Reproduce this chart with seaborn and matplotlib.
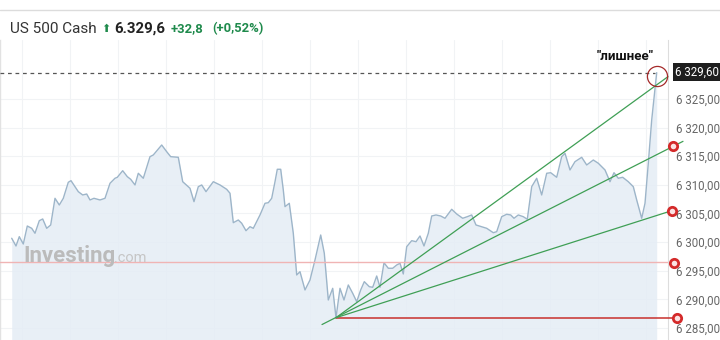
import matplotlib
matplotlib.use("Agg")
import matplotlib.pyplot as plt
import seaborn as sns
import pandas as pd
from matplotlib.lines import Line2D

# ---------------- data ----------------
t = [11.7, 16, 19.3, 23.3, 27.3, 31.7, 35, 39.3, 42.7, 46.7, 50.7, 55, 59.3, 63.3, 68.3, 71,
     78.3, 82.7, 86.7, 90, 94, 100, 105, 110, 115, 117.3, 122.7, 127.3, 130.7, 135, 138.3,
     143.3, 150, 153.3, 161.7, 166.7, 170.7, 178.3, 182.7, 190, 194, 198.3, 201.7, 206,
     213.3, 220, 226.7, 230, 233.3, 238.3, 241.7, 246, 250, 253.3, 260, 265, 268.3, 271.7,
     275, 277.3, 280.7, 283.3, 285, 289.3, 293.3, 296.7, 300, 305, 310, 315, 320.7, 324.3,
     328.3, 332.7, 336, 340, 344, 348.3, 352.7, 356.7, 360.7, 364.3, 369.3, 372.7, 376.7,
     380, 384, 388.3, 392.7, 396.7, 400, 403.3, 406.7, 411.7, 416, 420, 424, 428.3, 431.7,
     436, 440.7, 445, 451.7, 456.7, 462.7, 467.3, 471.7, 476, 481.7, 486.7, 493.3, 496.7,
     501.7, 506.7, 510.7, 514, 518.3, 523.3, 527.3, 531.7, 536.7, 541.7, 546.7, 550.7,
     556.7, 561.7, 565, 570, 575, 581.7, 586.7, 593.3, 598.3, 605, 610, 614, 618.3, 622.7,
     628.3, 633.3, 636.7, 641.7, 645, 648.3, 651.7, 656.7]
price = [6300.67, 6299.32, 6300.95, 6299.67, 6302.81, 6302.41, 6301.54, 6303.74, 6304.04,
         6302.41, 6302.99, 6307.65, 6306.48, 6307.65, 6310.45, 6310.73, 6308.81, 6308.23,
         6308.40, 6307.36, 6307.65, 6307.36, 6307.65, 6310.27, 6311.15, 6311.32, 6312.47,
         6311.43, 6310.97, 6309.98, 6312.02, 6311.15, 6314.92, 6315.22, 6316.96, 6315.79,
         6314.92, 6314.81, 6310.55, 6309.40, 6307.06, 6309.68, 6309.98, 6308.81, 6310.55,
         6309.98, 6309.22, 6308.53, 6303.39, 6303.86, 6303.29, 6301.99, 6302.69, 6302.41,
         6304.74, 6306.78, 6306.88, 6307.65, 6310.55, 6312.72, 6312.72, 6309.10, 6306.19,
         6306.78, 6301.54, 6294.26, 6294.83, 6291.64, 6293.38, 6296.88, 6301.24, 6298.05,
         6289.89, 6291.93, 6286.80, 6291.93, 6289.89, 6292.51, 6291.06, 6289.59, 6291.64,
         6293.09, 6292.21, 6292.11, 6294.08, 6292.11, 6296.40, 6295.43, 6295.43, 6296.00,
         6296.30, 6294.43, 6299.20, 6300.25, 6300.07, 6301.07, 6299.32, 6301.54, 6304.56,
         6304.74, 6304.56, 6304.16, 6305.73, 6304.91, 6304.16, 6304.44, 6304.74, 6302.99,
         6302.69, 6302.41, 6301.64, 6301.82, 6304.44, 6304.86, 6304.74, 6304.16, 6304.74,
         6304.44, 6303.99, 6309.68, 6311.15, 6308.23, 6312.02, 6312.12, 6311.32, 6314.92,
         6315.51, 6312.60, 6314.05, 6314.81, 6313.47, 6314.34, 6313.77, 6312.60, 6310.55,
         6312.12, 6311.15, 6311.32, 6310.55, 6309.68, 6307.36, 6304.16, 6306.78, 6313.77,
         6321.33, 6329.60]

last_price = 6329.60
ytick_values = [6285, 6290, 6295, 6300, 6305, 6310, 6315, 6320, 6325]
ytick_labels = ["6 285,00", "6 290,00", "6 295,00", "6 300,00", "6 305,00",
                "6 310,00", "6 315,00", "6 320,00", "6 325,00"]
last_label = "6 329,60"

# fan lines from the low point
fan_origin_t = 336
fan_start_t = [336, 322, 336]
fan_start_p = [6286.8, 6285.6, 6286.8]
fan_end_t = [668, 683, 672]
fan_end_p = [6328.9, 6317.6, 6305.5]

# horizontal levels
pink_level = 6296.5
red_level = 6286.8
red_level_end_t = 676

# red ring markers at the right
marker_t = [673, 672, 674, 676.7]
marker_p = [6316.8, 6305.5, 6296.4, 6286.7]

title_name = "US 500 Cash"
title_price = "6.329,6"
title_change = "+32,8"
title_pct = "(+0,52%)"
note_text = '"лишнее"'

# ---------------- figure ----------------
sns.set_theme(style="white")
plt.rcParams['font.family'] = ['Roboto', 'DejaVu Sans']

W, H = 720, 340
fig = plt.figure(figsize=(W / 100, H / 100), dpi=100)
fig.patch.set_facecolor("white")

ax_left, ax_right, ax_top, ax_bottom = 0, 668, 40, 340
ax = fig.add_axes([ax_left / W, 1 - ax_bottom / H, (ax_right - ax_left) / W,
                   (ax_bottom - ax_top) / H])
ax.set_facecolor("white")
ax.set_xlim(0, 668)
ax.set_ylim(6282.9, 6335.3)

# faint grid
ax.set_yticks(ytick_values)
ax.set_yticklabels(ytick_labels)
ax.set_xticks(list(range(22, 668, 48)))
ax.grid(True, color="#f1f3f5", linewidth=0.8)
ax.tick_params(axis="x", length=0, labelbottom=False)
ax.yaxis.tick_right()
ax.tick_params(axis="y", length=0, pad=6, labelsize=8.3, colors="#666666")

for s in ["top", "bottom"]:
    ax.spines[s].set_visible(False)
ax.spines["right"].set_color("#dddddd")
ax.spines["right"].set_linewidth(0.8)
ax.spines["left"].set_color("#e2e2e2")
ax.spines["left"].set_linewidth(1.0)

df = pd.DataFrame({"t": t, "price": price})

# watermark
fig.text(23 / W, 1 - 262 / H, "Investing", fontsize=16, fontweight="bold",
         color="#bbbbbb", va="baseline", ha="left", zorder=1)
fig.text(114 / W, 1 - 262 / H, ".com", fontsize=10.5, color="#c6c6c6",
         va="baseline", ha="left", zorder=1)

# area + line
ax.fill_between(df["t"], df["price"], 6282.9, color="#e5edf5", alpha=0.85,
                linewidth=0, zorder=2)
sns.lineplot(data=df, x="t", y="price", ax=ax, color="#9db5c9", linewidth=1.0,
             zorder=3, legend=False)
ax.set_xlabel("")
ax.set_ylabel("")

# last-price dashed line
ax.axhline(last_price, xmin=0, xmax=655 / 668, color="#555555", linewidth=0.9,
           dashes=(3, 3), zorder=4)

# pink level
ax.axhline(pink_level, color="#f0b4b4", linewidth=1.0, zorder=4)
# red level
ax.plot([fan_origin_t, red_level_end_t], [red_level, red_level], color="#c8302c",
        linewidth=1.1, zorder=5, clip_on=False)

# fan lines
for st, sp, et, ep in zip(fan_start_t, fan_start_p, fan_end_t, fan_end_p):
    ax.plot([st, et], [sp, ep], color="#3f9f55", linewidth=0.9, zorder=5, clip_on=False)

# red ring markers
ax.plot(marker_t, marker_p, linestyle="none", marker="o", markersize=6.0,
        markerfacecolor="#fbe3e3", markeredgecolor="#d42a2a", markeredgewidth=2.0,
        zorder=6, clip_on=False)

# highlight circle around the spike
ax.plot([657], [6329.0], marker="o", markersize=14.5, markerfacecolor="none",
        markeredgecolor="#a52a2a", markeredgewidth=0.9, zorder=7, clip_on=False)

# note
fig.text(625 / W, 1 - 56 / H, note_text, fontsize=9.6, fontweight="bold",
         color="#111111", ha="center", va="center")

# last price label box
fig.text(675 / W, 1 - 72 / H, last_label, fontsize=8.3, color="white",
         va="center", ha="left",
         bbox=dict(boxstyle="square,pad=0.18", facecolor="#1e1e1e", edgecolor="none"))

# header separator and title
fig.add_artist(Line2D([0, 1], [1 - 10 / H, 1 - 10 / H], color="#dcdcdc", linewidth=1.0))
fig.text(10 / W, 1 - 29 / H, title_name, fontsize=11, color="#333333", va="center", ha="left")
fig.text(101 / W, 1 - 29.5 / H, "⬆", fontsize=8, color="#1f8a4c", va="center", ha="left",
         family=["DejaVu Sans"])
fig.text(114 / W, 1 - 29 / H, title_price, fontsize=10.8, color="#222222",
         fontweight="bold", va="center", ha="left")
fig.text(171 / W, 1 - 29 / H, title_change, fontsize=9.4, color="#1f8a4c",
         fontweight="bold", va="center", ha="left")
fig.text(212 / W, 1 - 29 / H, title_pct, fontsize=9.4, color="#1f8a4c",
         fontweight="bold", va="center", ha="left")

fig.savefig("out.png", dpi=100, facecolor="white")
